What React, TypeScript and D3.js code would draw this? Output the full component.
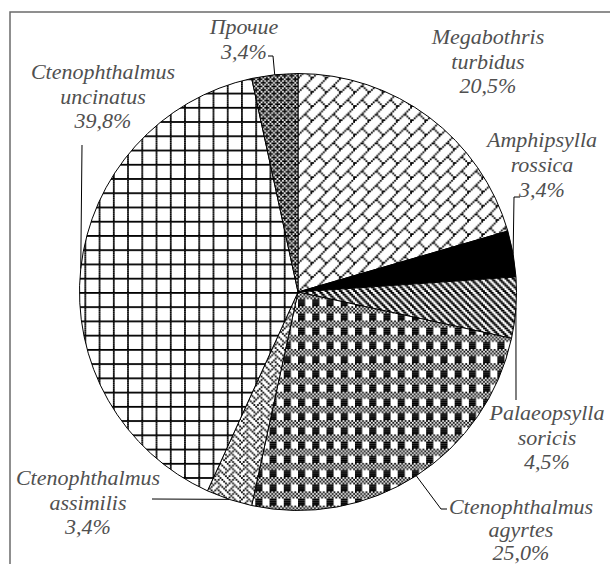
import React from 'react';
import * as d3 from 'd3';

// ---- data ----
const categories = [
  'Megabothris turbidus',
  'Amphipsylla rossica',
  'Palaeopsylla soricis',
  'Ctenophthalmus agyrtes',
  'Ctenophthalmus assimilis',
  'Ctenophthalmus uncinatus',
  'Прочие',
];
const values = [20.5, 3.4, 4.5, 25.0, 3.4, 39.8, 3.4];
const labelTexts = [
  ['Megabothris', 'turbidus', '20,5%'],
  ['Amphipsylla', 'rossica', '3,4%'],
  ['Palaeopsylla', 'soricis', '4,5%'],
  ['Ctenophthalmus', 'agyrtes', '25,0%'],
  ['Ctenophthalmus', 'assimilis', '3,4%'],
  ['Ctenophthalmus', 'uncinatus', '39,8%'],
  ['Прочие', '3,4%'],
];

// ---- layout ----
const W = 610;
const H = 564;
const CX = 298;
const CY = 292;
const R = 218.5;
const S = 1.78; // pattern pixel size
const FONT = '"Liberation Serif", "Times New Roman", "DejaVu Serif", serif';

const labelLayout = [
  { cx: 488, y0: 44, lh: 24.5, leader: [] as number[][] },
  { cx: 542, y0: 147, lh: 25, leader: [[520, 197], [514, 197]] },
  { cx: 547, y0: 420, lh: 24.5, leader: [[516, 400]] },
  { cx: 521, y0: 514, lh: 23, leader: [[447, 509], [441, 509]] },
  { cx: 88, y0: 485, lh: 24.5, leader: [[152, 499]] },
  { cx: 103, y0: 79, lh: 24.5, leader: [[82, 145]] },
  { cx: 244, y0: 34, lh: 24.5, leader: [[268, 56], [273, 56]] },
];

const patterns: Record<string, string[] | null> = {
  brick: [
    '.......#',
    '......#.',
    '.....#..',
    '....#...',
    '...##...',
    '..#..#..',
    '.#....#.',
    '#......#',
  ],
  solid: null,
  darkdown: [
    '##..##..',
    '.##..##.',
    '..##..##',
    '#..##..#',
    '##..##..',
    '.##..##.',
    '..##..##',
    '#..##..#',
  ],
  plaid: [
    '#.#.#.#.',
    '.#.#.#.#',
    '#.#.#.#.',
    '.#.#.#.#',
    '####....',
    '####....',
    '####....',
    '####....',
  ],
  weave: [
    '#...#...',
    '.#.#.#..',
    '..#...#.',
    '.#.#...#',
    '#...#...',
    '...#.#.#',
    '..#...#.',
    '.#.#...#',
  ],
  grid: [
    '########',
    '#.......',
    '#.......',
    '#.......',
    '#.......',
    '#.......',
    '#.......',
    '#.......',
  ],
  dense: [
    '.###.###',
    '#.#.#.#.',
    '##.###.#',
    '#.#.#.#.',
    '.###.###',
    '#.#.#.#.',
    '##.###.#',
    '#.#.#.#.',
  ],
};
const sliceFills = ['brick', 'solid', 'darkdown', 'plaid', 'weave', 'grid', 'dense'];

function BitmapPattern({ id, rows }: { id: string; rows: string[] }) {
  const n = rows.length;
  const m = rows[0].length;
  const rects: React.ReactNode[] = [];
  rows.forEach((row, y) => {
    let x = 0;
    while (x < m) {
      if (row[x] === '#') {
        let e = x;
        while (e < m && row[e] === '#') e++;
        rects.push(
          <rect key={`${x}-${y}`} x={x * S} y={y * S} width={(e - x) * S} height={S} fill="#000" />
        );
        x = e;
      } else x++;
    }
  });
  return (
    <pattern id={id} patternUnits="userSpaceOnUse" width={m * S} height={n * S}>
      <rect width={m * S} height={n * S} fill="#fff" />
      {rects}
    </pattern>
  );
}

export default function App() {
  const pie = d3
    .pie<number>()
    .sort(null)
    .value((d) => d)
    .startAngle(0)
    .endAngle(2 * Math.PI);
  const arcs = pie(values);
  const arcGen = d3.arc<d3.PieArcDatum<number>>().innerRadius(0).outerRadius(R);
  const edgePoint = (a: d3.PieArcDatum<number>) => {
    const m = (a.startAngle + a.endAngle) / 2;
    return [CX + Math.sin(m) * R, CY - Math.cos(m) * R];
  };
  const line = d3.line();

  return (
    <svg
      width={W}
      height={H}
      style={{ position: 'absolute', left: 0, top: 0, background: '#fff' }}
    >
      <defs>
        {Object.entries(patterns).map(([k, rows]) =>
          rows ? <BitmapPattern key={k} id={`p-${k}`} rows={rows} /> : null
        )}
      </defs>
      <rect width={W} height={H} fill="#fff" />
      <path d={`M10,${H} V12 H${W}`} fill="none" stroke="#6b6b6b" strokeWidth={1.5} />
      <g transform={`translate(${CX},${CY})`}>
        {arcs.map((a, i) => (
          <path
            key={categories[i]}
            d={arcGen(a) || ''}
            fill={sliceFills[i] === 'solid' ? '#000' : `url(#p-${sliceFills[i]})`}
            stroke="#000"
            strokeWidth={1}
            strokeLinejoin="round"
          />
        ))}
      </g>
      {arcs.map((a, i) => {
        const L = labelLayout[i];
        if (!L.leader.length) return null;
        const pts = [...L.leader, edgePoint(a)] as [number, number][];
        return <path key={'l' + i} d={line(pts) || ''} fill="none" stroke="#000" strokeWidth={1} />;
      })}
      {labelTexts.map((lines, i) => {
        const L = labelLayout[i];
        return (
          <text
            key={'t' + i}
            x={L.cx}
            textAnchor="middle"
            style={{ fontFamily: FONT, fontStyle: 'italic', fontSize: '22px' }}
            fill="#505050"
          >
            {lines.map((t, j) => (
              <tspan key={j} x={L.cx} y={L.y0 + j * L.lh}>
                {t}
              </tspan>
            ))}
          </text>
        );
      })}
    </svg>
  );
}
